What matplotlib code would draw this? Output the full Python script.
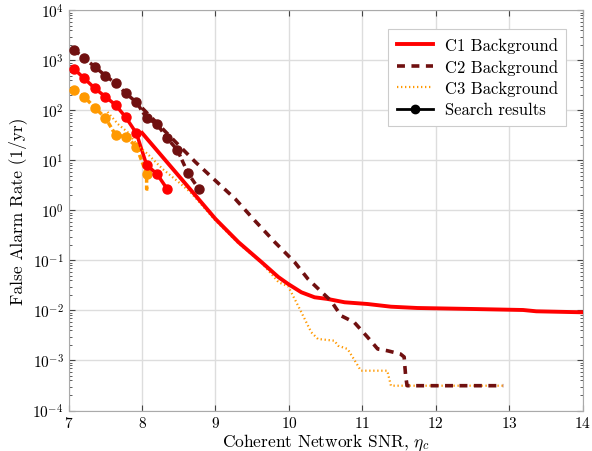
import numpy as np
import matplotlib
matplotlib.use("Agg")
import matplotlib.pyplot as plt
from matplotlib.lines import Line2D

plt.rcParams['font.family'] = ['cmr10', 'DejaVu Serif']
plt.rcParams['mathtext.fontset'] = 'cm'
plt.rcParams['axes.formatter.use_mathtext'] = True
plt.rcParams['axes.unicode_minus'] = False

# ---- data (log10 of FAR values) ----
c1_bg_snr = [8.0, 8.73, 9.0, 9.315, 9.63, 9.855, 9.99, 10.17, 10.35, 10.53, 10.76,
             11.07, 11.39, 11.75, 12.51, 13.19, 13.37, 14.0]
c1_bg_logfar = [1.55, 0.296, -0.17, -0.636, -1.036, -1.33, -1.47, -1.636, -1.736, -1.77,
                -1.836, -1.87, -1.924, -1.95, -1.97, -1.99, -2.016, -2.036]

c2_bg_snr = [8.0, 8.46, 8.73, 9.0, 9.27, 9.54, 9.81, 10.08, 10.26, 10.575, 10.71, 10.89,
             11.07, 11.21, 11.34, 11.52, 11.57, 11.59, 11.61, 12.92]
c2_bg_logfar = [2.05, 1.364, 0.964, 0.596, 0.23, -0.21, -0.636, -1.036, -1.37, -1.81,
                -2.104, -2.236, -2.53, -2.77, -2.804, -2.87, -2.93, -3.304, -3.504, -3.504]

c3_bg_snr = [7.53, 7.67, 7.805, 7.94, 8.076, 8.28, 8.5, 8.66, 8.73, 9.0, 9.315, 9.63,
             9.86, 9.99, 10.125, 10.305, 10.396, 10.62, 10.67, 10.80, 10.94, 10.98,
             11.34, 11.39, 12.92]
c3_bg_logfar = [1.97, 1.73, 1.564, 1.296, 1.13, 0.83, 0.564, 0.364, 0.25, -0.2, -0.66,
                -1.05, -1.436, -1.516, -1.904, -2.436, -2.57, -2.604, -2.704, -2.77,
                -3.104, -3.204, -3.204, -3.504, -3.504]

search_snr = [7.072, 7.211, 7.355, 7.5, 7.639, 7.778, 7.923, 8.062, 8.203, 8.342,
              8.481, 8.626, 8.769]
c1_search_logfar = [2.83, 2.644, 2.444, 2.276, 2.11, 1.864, 1.544, 0.91, 0.73, 0.43]
c2_search_logfar = [3.216, 3.044, 2.876, 2.696, 2.544, 2.344, 2.164, 1.85, 1.73, 1.444,
                    1.21, 0.744, 0.438]
c3_search_logfar = [2.41, 2.276, 2.056, 1.856, 1.51, 1.476, 1.276, 0.73]
c3_search_tail_snr = [8.062, 8.1]
c3_search_tail_logfar = [0.43, 0.43]

c1_color = '#FF0000'
c2_color = '#701010'
c3_color = '#FF9900'

fig = plt.figure(figsize=(5.92, 4.52), dpi=100)
ax = fig.add_axes([0.116, 0.0896, 0.868, 0.885])

def p(v):
    return 10.0 ** np.asarray(v)

# search results
n3 = len(c3_search_logfar)
ax.plot(search_snr[:n3] + c3_search_tail_snr,
        p(c3_search_logfar + c3_search_tail_logfar), color=c3_color,
        lw=2.5, ls=(0, (1.5, 0.8)), zorder=3)
ax.plot(search_snr[:n3], p(c3_search_logfar), color=c3_color, ls='none',
        marker='o', ms=6.5, zorder=3)
ax.plot(search_snr[:len(c1_search_logfar)], p(c1_search_logfar), color=c1_color,
        lw=2.5, marker='o', ms=6.5, zorder=3)
ax.plot(search_snr, p(c2_search_logfar), color=c2_color, lw=2.5,
        ls=(0, (2, 1)), marker='o', ms=6.5, zorder=3)

# backgrounds
ax.plot(c3_bg_snr, p(c3_bg_logfar), color=c3_color, lw=1.6, ls=(0, (0.6, 1.2)), zorder=4)
ax.plot(c1_bg_snr, p(c1_bg_logfar), color=c1_color, lw=2.8, zorder=4)
ax.plot(c2_bg_snr, p(c2_bg_logfar), color=c2_color, lw=2.6, ls=(0, (2.2, 1.8)), zorder=4)

ax.set_yscale('log')
ax.set_xlim(7, 14)
ax.set_ylim(1e-4, 1e4)
ax.set_yticks([10.0 ** k for k in range(-4, 5)])
ax.set_xticks(range(7, 15))
ax.grid(True, which='major', color='#DDDDDD', lw=1.0)
ax.set_axisbelow(True)
for s in ax.spines.values():
    s.set_color('#AAAAAA')
ax.tick_params(which='both', direction='in', colors='#444444', labelcolor='black',
               top=True, right=True, labelsize=11)
ax.tick_params(which='major', length=4)
ax.tick_params(which='minor', length=2)
ax.set_xlabel(r'Coherent Network SNR, $\eta_c$', fontsize=12.5, labelpad=1)
ax.set_ylabel('False Alarm Rate (1/yr)', fontsize=12.5, labelpad=4)

handles = [
    Line2D([], [], color=c1_color, lw=2.8),
    Line2D([], [], color=c2_color, lw=2.6, ls=(0, (2.2, 1.8))),
    Line2D([], [], color=c3_color, lw=1.6, ls=(0, (0.6, 1.2))),
    Line2D([], [], color='black', lw=2.0, marker='o', ms=6),
]
labels = ['C1 Background', 'C2 Background', 'C3 Background', 'Search results']
leg = ax.legend(handles, labels, loc='upper right', bbox_to_anchor=(0.985, 0.975),
                fontsize=12, fancybox=False, edgecolor='#CCCCCC', framealpha=1,
                handlelength=2.2, borderpad=0.5, labelspacing=0.35, handletextpad=0.7)
leg.get_frame().set_linewidth(0.8)

fig.savefig('out.png', dpi=100)
